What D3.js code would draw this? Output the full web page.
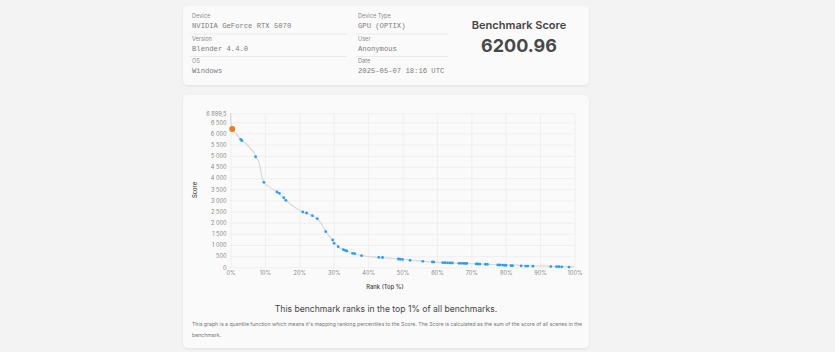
<!DOCTYPE html>
<html>
<head>
<meta charset="utf-8">
<script src="https://cdn.jsdelivr.net/npm/d3@7"></script>
<style>
  body { margin: 0; background: #f3f3f3; }
  svg { display: block; }
</style>
</head>
<body>
<svg id="page" width="835" height="352"></svg>
<script>
// info rows: [label, value]
var infoLeft = [['Device', 'NVIDIA GeForce RTX 5070'], ['Version', 'Blender 4.4.0'], ['OS', 'Windows']];
var infoRight = [['Device Type', 'GPU (OPTIX)'], ['User', 'Anonymous'], ['Date', '2025-05-07 18:16 UTC']];
var scoreTitle = 'Benchmark Score';
var scoreValue = '6200.96';

// quantile curve (rank %, score)
var curveRank  = [0, 0.2, 0.5, 1.5, 3, 4.5, 6, 6.8, 7.3, 8.3, 9, 9.7, 11, 13.5, 16.1, 18, 21, 23.8, 25.2, 26.5, 27.7, 29.7, 31.3, 33.8, 36.1, 38.1, 43, 48.8, 55.9, 64.5, 74.7, 82, 88, 96.3, 100];
var curveScore = [6899.5, 6450, 6200, 6000, 5737, 5550, 5300, 5150, 4957, 4700, 4150, 3810, 3640, 3375, 3003, 2760, 2479, 2313, 2178, 1920, 1596, 1224, 923, 731, 610, 520, 448, 372, 269, 193, 134, 100, 70, 35, 15];

// other results
var dotRank  = [2.97, 3.3, 7.3, 9.7, 13.5, 14.2, 15.5, 16.1, 21, 22.1, 23.8, 25.2, 27.7, 29.7, 30.1, 31.3, 32.8, 33.3, 33.8, 35.5, 36.1, 38.1, 43.1, 44.2, 48.8, 49.3, 50, 52.2, 55.9, 58.7, 59.1, 61.7, 62.4, 63.1, 63.8, 64.5, 66.4, 67, 67.7, 68.2, 68.7, 71.4, 71.9, 72.5, 74.1, 74.7, 77.7, 78.3, 79.1, 79.6, 80.1, 81.5, 82, 84.5, 85.8, 86.4, 87.9, 93.1, 94.8, 95.5, 96.3, 98.4];
var dotScore = [5737, 5675, 4957, 3810, 3375, 3316, 3120, 3003, 2479, 2434, 2313, 2178, 1596, 1224, 1076, 923, 789, 762, 731, 628, 610, 520, 448, 440, 372, 360, 355, 314, 269, 240, 236, 208, 205, 200, 196, 193, 180, 178, 176, 174, 172, 150, 148, 146, 136, 134, 108, 104, 100, 92, 90, 75, 72, 60, 56, 54, 52, 32, 30, 26, 22, 12];

var mine = {rank: 0.5, score: 6200.96};

var yTicks = [0, 500, 1000, 1500, 2000, 2500, 3000, 3500, 4000, 4500, 5000, 5500, 6000, 6500, 6899.5];
var xTicks = [0, 10, 20, 30, 40, 50, 60, 70, 80, 90, 100];

var rankText = 'This benchmark ranks in the top 1% of all benchmarks.';
var noteLines = ["This graph is a quantile function which means it's mapping ranking percentiles to the Score. The Score is calculated as the sum of the score of all scenes in the",
  'benchmark.'];

var svg = d3.select('#page');
var sans = 'Inter, "Noto Sans", sans-serif';
var mono = '"Liberation Mono", "DejaVu Sans Mono", monospace';

var defs = svg.append('defs');
var f = defs.append('filter').attr('id', 'sh').attr('x', '-5%').attr('y', '-5%').attr('width', '110%').attr('height', '115%');
f.append('feDropShadow').attr('dx', 0).attr('dy', 1).attr('stdDeviation', 1.2).attr('flood-color', '#000').attr('flood-opacity', 0.08);

// cards
svg.append('rect').attr('x', 183).attr('y', 6).attr('width', 406).attr('height', 79).attr('rx', 5)
  .style('fill', '#fafafa').attr('filter', 'url(#sh)');
svg.append('rect').attr('x', 183).attr('y', 95).attr('width', 406).attr('height', 253).attr('rx', 5)
  .style('fill', '#fafafa').attr('filter', 'url(#sh)');

// info columns
function infoCol(rows, x0, w) {
  var g = svg.append('g').attr('transform', `translate(${x0}, 0)`);
  rows.forEach(function(r, i) {
    var y = 18 + i * 22.5;
    g.append('text').attr('x', 0).attr('y', y).text(r[0])
      .style('font-family', sans).style('font-size', '5.6px').style('fill', '#8a8a8a');
    g.append('text').attr('x', 0).attr('y', y + 10).text(r[1])
      .style('font-family', mono).style('font-size', '7.2px').style('fill', '#7a7a7a');
    if (i < rows.length - 1) {
      g.append('line').attr('x1', -2).attr('x2', w).attr('y1', y + 16).attr('y2', y + 16)
        .style('stroke', '#e6e6e6').style('stroke-width', 0.8);
    }
  });
}
infoCol(infoLeft, 192, 155);
infoCol(infoRight, 358, 90);

svg.append('text').attr('x', 519).attr('y', 29).attr('text-anchor', 'middle').text(scoreTitle)
  .style('font-family', sans).style('font-size', '11px').style('font-weight', 600).style('fill', '#444');
svg.append('text').attr('x', 519).attr('y', 52).attr('text-anchor', 'middle').text(scoreValue)
  .style('font-family', sans).style('font-size', '18px').style('font-weight', 700).style('fill', '#484848');

// chart
var x = d3.scaleLinear().domain([0, 100]).range([230.5, 574.5]);
var y = d3.scaleLinear().domain([0, 6899.5]).range([267.3, 113.4]);

var loc = d3.formatLocale({decimal: ',', thousands: ' ', grouping: [3], currency: ['', '']});
var fmtY = function(d) { return d % 1 ? loc.format(',.1f')(d) : loc.format(',')(d); };

var chart = svg.append('g');
chart.append('g').attr('transform', `translate(${x(0)}, 0)`)
  .call(d3.axisLeft(y).tickValues(yTicks).tickFormat(fmtY).tickSize(-(x(100) - x(0))).tickPadding(4))
  .call(g => g.select('.domain').remove())
  .call(g => g.selectAll('line').style('stroke', '#ececec').style('stroke-width', 0.8))
  .call(g => g.selectAll('text').style('font-family', sans).style('font-size', '5.6px').style('fill', '#888'));
chart.append('g').attr('transform', `translate(0, ${y(0)})`)
  .call(d3.axisBottom(x).tickValues(xTicks).tickFormat(d => d + '%').tickSize(-(y(0) - y(6899.5))).tickPadding(4))
  .call(g => g.select('.domain').remove())
  .call(g => g.selectAll('line').style('stroke', '#ececec').style('stroke-width', 0.8))
  .call(g => g.selectAll('text').style('font-family', sans).style('font-size', '5.6px').style('fill', '#888'));

var curve = curveRank.map((r, i) => [r, curveScore[i]]);
chart.append('path').datum(curve)
  .attr('d', d3.line().x(d => x(d[0])).y(d => y(d[1])).curve(d3.curveMonotoneX))
  .style('fill', 'none').style('stroke', '#d9d9d9').style('stroke-width', 1.2);

chart.selectAll('circle.dot').data(dotRank).enter().append('circle').attr('class', 'dot')
  .attr('cx', d => x(d)).attr('cy', (d, i) => y(dotScore[i])).attr('r', 1.4)
  .style('fill', '#2a9df4');

chart.append('circle').attr('cx', x(mine.rank)).attr('cy', y(mine.score)).attr('r', 3)
  .style('fill', '#f07c1c');

svg.append('text').attr('transform', 'translate(197, 190) rotate(-90)').attr('text-anchor', 'middle').text('Score')
  .style('font-family', sans).style('font-size', '5.8px').style('font-weight', 500).style('fill', '#444');
svg.append('text').attr('x', 385).attr('y', 289).attr('text-anchor', 'middle').text('Rank (Top %)')
  .style('font-family', sans).style('font-size', '5.8px').style('font-weight', 500).style('fill', '#444');

svg.append('text').attr('x', 386).attr('y', 312).attr('text-anchor', 'middle').text(rankText)
  .style('font-family', sans).style('font-size', '8.6px').style('fill', '#444');
noteLines.forEach(function(t, i) {
  svg.append('text').attr('x', 192).attr('y', 326 + i * 11).text(t)
    .style('font-family', sans).style('font-size', '5.2px').style('fill', '#777');
});
</script>
</body>
</html>
